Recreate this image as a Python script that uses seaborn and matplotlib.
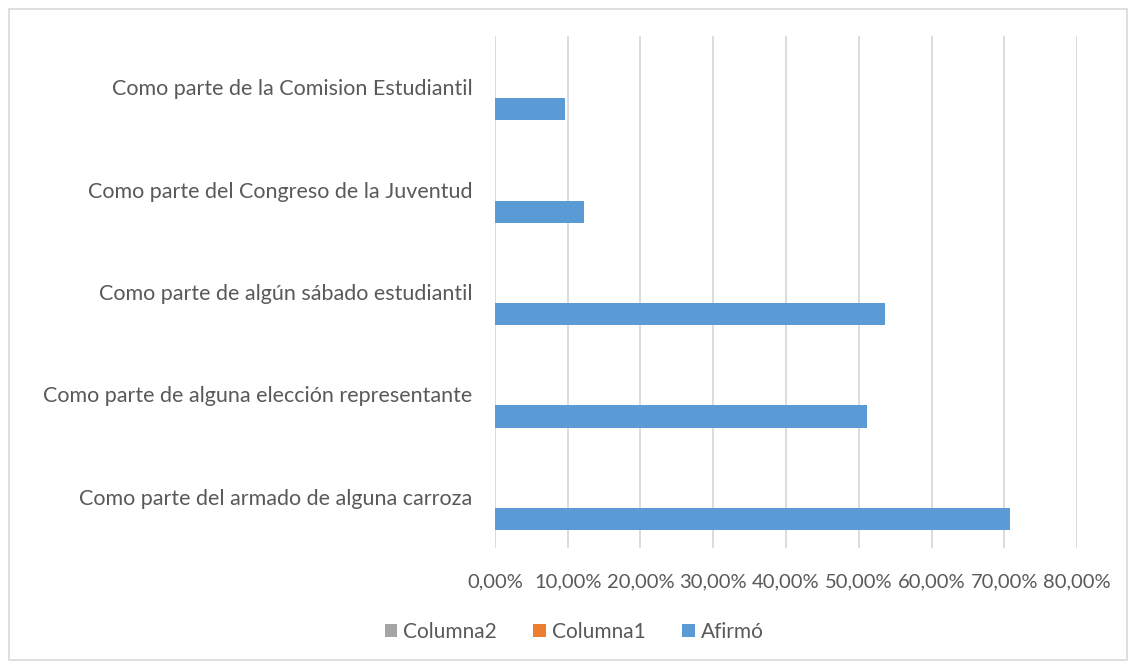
import pandas as pd
import seaborn as sns
import matplotlib.pyplot as plt
from matplotlib.patches import Rectangle
from matplotlib.ticker import FuncFormatter, MultipleLocator

categorias = ['Como parte de la Comision Estudiantil',
              'Como parte del Congreso de la Juventud',
              'Como parte de algún sábado estudiantil',
              'Como parte de alguna elección representante',
              'Como parte del armado de alguna carroza']
afirmo = [0.097, 0.122, 0.536, 0.511, 0.708]
columna1 = [0, 0, 0, 0, 0]
columna2 = [0, 0, 0, 0, 0]
series = ['Columna2', 'Columna1', 'Afirmó']
colores = ['#A5A5A5', '#ED7D31', '#5B9BD5']

df = pd.DataFrame({
    'Categoria': categorias * 3,
    'Valor': columna2 + columna1 + afirmo,
    'Serie': [s for s in series for _ in categorias],
})

sns.set_style('white')
plt.rcParams['font.family'] = ['Lato', 'DejaVu Sans']
gris = '#595959'

fig = plt.figure(figsize=(11.35, 6.66), dpi=100)
ax = fig.add_axes([0.436, 0.177, 0.513, 0.769])

sns.barplot(data=df, y='Categoria', x='Valor', hue='Serie', hue_order=series,
            palette=colores, saturation=1, orient='h', width=0.645,
            linewidth=0, ax=ax)

ax.set_xlim(0, 0.8)
ax.xaxis.set_major_locator(MultipleLocator(0.1))
ax.xaxis.set_major_formatter(FuncFormatter(lambda v, p: f'{v*100:.2f}%'.replace('.', ',')))
ax.grid(axis='x', color='#D9D9D9', linewidth=1.3)
ax.set_axisbelow(True)
for s in ax.spines.values():
    s.set_visible(False)
ax.set_xlabel('')
ax.set_ylabel('')
ax.tick_params(axis='both', length=0, labelcolor=gris)
ax.tick_params(axis='x', pad=18, labelsize=14.5)
ax.tick_params(axis='y', pad=16, labelsize=15.5)

handles, labels = ax.get_legend_handles_labels()
ax.legend(handles, labels, loc='center', bbox_to_anchor=(0.506, 0.051),
          bbox_transform=fig.transFigure, ncol=3, frameon=False, fontsize=15,
          handlelength=0.6, handleheight=0.6, handletextpad=0.3, columnspacing=1.75,
          labelcolor=gris)

fig.patches.append(Rectangle((0.008, 0.009), 0.985, 0.978, transform=fig.transFigure,
                             fill=False, edgecolor='#D9D9D9', linewidth=1.2))

fig.savefig('out.png', dpi=100)
